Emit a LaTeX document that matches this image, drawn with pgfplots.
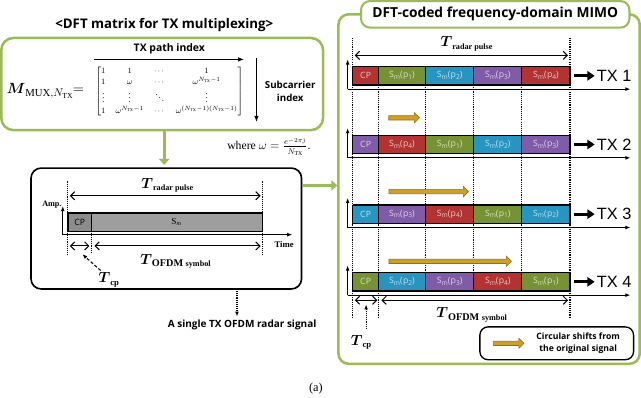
\documentclass[border=0pt]{standalone}
\usepackage{amsmath}
\usepackage{pgfplots}
\pgfplotsset{compat=1.18}
\usepackage{fontspec}
\setmainfont{Liberation Serif}
\setsansfont{Open Sans}
\newfontfamily\arialf{Liberation Sans}
\newfontfamily\segf[LetterSpace=4]{Open Sans}
\usetikzlibrary{arrows.meta,shapes.arrows}
\definecolor{gbox}{RGB}{155,187,89}
\definecolor{cred}{RGB}{178,52,50}
\definecolor{cgreen}{RGB}{118,146,52}
\definecolor{cblue}{RGB}{40,148,192}
\definecolor{cpurple}{RGB}{128,92,168}
\definecolor{gold}{RGB}{205,160,40}
\definecolor{golddark}{RGB}{150,112,20}
\newcommand\fs[1]{\fontsize{#1}{#1}\selectfont}
\newcommand\seg[6]{%
\addplot[fill=#5, draw=black, line width=1.1pt] coordinates {(#1,#3)(#2,#3)(#2,#4)(#1,#4)(#1,#3)};
\node[text=white!72!#5, font={\segf\fs{8.5}}, inner sep=0pt] at ({(#1+#2)/2},{(#3+#4)/2}) {#6};}
\newcommand\Sm[1]{S\raisebox{-1.5pt}{\fs{6.5}m}(p\raisebox{-1.5pt}{\fs{6.5}#1})}
\newcommand\goldarrow[3]{\node[single arrow, fill=gold, draw=golddark, line width=0.6pt, minimum height=#3pt, minimum width=10pt, single arrow head extend=2.5pt, inner sep=1.6pt] at (#1,#2) {};}
\newcommand\Tsym[2]{{\fs{15}$\boldsymbol{T}$}{\bfseries\raisebox{-2.5pt}{#1}}}
\begin{document}
\begin{tikzpicture}
\begin{axis}[scale only axis, width=641bp, height=398bp, xmin=0, xmax=641, ymin=0, ymax=398, y dir=reverse, axis lines=none, clip=false]
% ===== Left: DFT matrix =====
\node[font={\sffamily\bfseries\fs{13}}] at (172,27) {<DFT matrix for TX multiplexing>};
\draw[gbox, line width=2.5pt, rounded corners=12pt] (13,40) rectangle (327,130);
\node[font={\sffamily\bfseries\fs{10.2}}] at (177,51) {TX path index};
\draw[-{Latex[length=6pt]}, line width=1pt] (103,61) -- (250,61);
\draw[-{Latex[length=6pt]}, line width=1pt] (262,60) -- (262,122);
\node[font={\sffamily\bfseries\fontsize{9.5}{12.5}\selectfont}, align=center] at (295,92) {Subcarrier\\index};
\node[anchor=east, inner sep=0pt] at (94,92) {\fs{15}$\boldsymbol{M}_{\mathrm{MUX},N_{\mathrm{TX}}}\!\!=$};
\node[inner sep=0pt] at (177,92) {\fontsize{8.5}{9.5}\selectfont\setlength{\arraycolsep}{5pt}\renewcommand{\arraystretch}{1.12}$\begin{bmatrix} 1 & 1 & \cdots & 1\\ 1 & \omega & \cdots & \omega^{N_{\mathrm{TX}}-1}\\ \vdots & \vdots & \ddots & \vdots\\ 1 & \omega^{N_{\mathrm{TX}}-1} & \cdots & \omega^{(N_{\mathrm{TX}}-1)(N_{\mathrm{TX}}-1)}\end{bmatrix}$};
\node[anchor=west] at (230,146) {\fs{11.5}where $\omega=\frac{e^{-2\pi j}}{N_{\mathrm{TX}}}$.};
\draw[gbox, line width=3pt, -{Triangle[length=6pt,width=10pt]}] (172,131) -- (172,164);
% ===== Left: single OFDM signal =====
\draw[line width=1.6pt, rounded corners=10pt] (42,167) rectangle (306,285);
\draw[densely dotted, line width=1.1pt] (78,180) -- (78,252);
\draw[densely dotted, line width=1.1pt] (268,180) -- (268,252);
\draw[densely dotted, line width=1.1pt] (101,230) -- (101,250);
\node at (175,184) {\Tsym{\fs{8}radar pulse}{}};
\draw[{Straight Barb[length=4pt]}-{Straight Barb[length=4pt]}, line width=1pt] (80,194) -- (266,194);
\node[anchor=east, font={\fs{8}\bfseries}, inner sep=1pt] at (73,203) {Amp.};
\draw[-{Latex[length=5pt]}, line width=1pt] (73,232) -- (73,204);
\draw[-{Latex[length=5pt]}, line width=1pt] (73,232) -- (297,232);
\node[font={\fs{8.5}\bfseries}] at (289,242) {Time};
\addplot[fill=black!45, draw=black, line width=1.4pt] coordinates {(78,211)(101,211)(101,229)(78,229)(78,211)};
\addplot[fill=black!38, draw=black, line width=1.4pt] coordinates {(101,211)(268,211)(268,229)(101,229)(101,211)};
\node[font={\sffamily\fs{8.5}}] at (89.5,220) {CP};
\node[font={\fs{9}}] at (184,220) {S\textsubscript{\itshape m}};
\draw[{Straight Barb[length=4pt]}-{Straight Barb[length=4pt]}, line width=1pt] (80,243) -- (99,243);
\draw[{Straight Barb[length=4pt]}-{Straight Barb[length=4pt]}, line width=1pt] (104,243) -- (266,243);
\node at (183,258) {\Tsym{\fs{10}OFDM {\fs{8}symbol}}{}};
\node at (118,276) {\Tsym{\fs{8.5}cp}{}};
\draw[densely dashed, line width=1pt, -{Latex[length=5pt]}] (110,267) -- (92,251);
\draw[densely dotted, line width=1.1pt, -{Latex[length=5pt]}] (243,287) -- (243,312);
\node[anchor=east, font={\sffamily\bfseries\fs{9.8}}] at (324,320) {A single TX OFDM radar signal};
\draw[gbox, line width=3pt, -{Triangle[length=6pt,width=10pt]}] (307,184) -- (341,184);
% ===== Right: MIMO =====
\draw[gbox, line width=2.5pt, rounded corners=10pt] (342,17) rectangle (636,358);
\draw[gbox, line width=2pt, fill=white, rounded corners=9pt] (364,4) rectangle (626,30);
\node[font={\sffamily\bfseries\fs{13.5}}] at (495,17) {DFT-coded frequency-domain MIMO};
\node at (467,46) {\Tsym{\fs{8}radar pulse}{}};
\draw[{Straight Barb[length=4pt]}-{Straight Barb[length=4pt]}, line width=1pt] (358,57) -- (566,57);
\draw[densely dotted, line width=1.1pt] (356,40) -- (356,312);
\draw[densely dotted, line width=1.1pt] (568,40) -- (568,312);
\draw[densely dotted, line width=1.1pt] (381,86) -- (381,312);
\draw[densely dotted, line width=1.1pt] (427,86) -- (427,270);
\draw[densely dotted, line width=1.1pt] (474,86) -- (474,270);
\draw[densely dotted, line width=1.1pt] (521,86) -- (521,270);
% axes for each TX
\draw[-{Latex[length=5pt]}, line width=1pt] (351,90) -- (351,61);
\draw[-{Latex[length=5pt]}, line width=1pt] (351,90) -- (627,90);
\draw[-{Latex[length=5pt]}, line width=1pt] (351,157) -- (351,128);
\draw[-{Latex[length=5pt]}, line width=1pt] (351,157) -- (627,157);
\draw[-{Latex[length=5pt]}, line width=1pt] (351,225) -- (351,196);
\draw[-{Latex[length=5pt]}, line width=1pt] (351,225) -- (627,225);
\draw[-{Latex[length=5pt]}, line width=1pt] (351,291) -- (351,262);
\draw[-{Latex[length=5pt]}, line width=1pt] (351,291) -- (627,291);
% TX1
\seg{356}{381}{68}{86}{cred}{CP}
\seg{381}{427}{68}{86}{cgreen}{\Sm{1}}
\seg{427}{474}{68}{86}{cblue}{\Sm{2}}
\seg{474}{521}{68}{86}{cpurple}{\Sm{3}}
\seg{521}{568}{68}{86}{cred}{\Sm{4}}
% TX2
\seg{356}{381}{135}{153}{cpurple}{CP}
\seg{381}{427}{135}{153}{cred}{\Sm{4}}
\seg{427}{474}{135}{153}{cgreen}{\Sm{1}}
\seg{474}{521}{135}{153}{cblue}{\Sm{2}}
\seg{521}{568}{135}{153}{cpurple}{\Sm{3}}
% TX3
\seg{356}{381}{203}{221}{cblue}{CP}
\seg{381}{427}{203}{221}{cpurple}{\Sm{3}}
\seg{427}{474}{203}{221}{cred}{\Sm{4}}
\seg{474}{521}{203}{221}{cgreen}{\Sm{1}}
\seg{521}{568}{203}{221}{cblue}{\Sm{2}}
% TX4
\seg{356}{381}{269}{287}{cgreen}{CP}
\seg{381}{427}{269}{287}{cblue}{\Sm{2}}
\seg{427}{474}{269}{287}{cpurple}{\Sm{3}}
\seg{474}{521}{269}{287}{cred}{\Sm{4}}
\seg{521}{568}{269}{287}{cgreen}{\Sm{1}}
% TX labels
\draw[line width=2.8pt, -{Triangle[length=7pt,width=9pt]}] (572,77) -- (592,77);
\node[anchor=west, font={\arialf\fs{16}}, inner sep=1pt] at (593,77) {TX 1};
\draw[line width=2.8pt, -{Triangle[length=7pt,width=9pt]}] (572,144) -- (592,144);
\node[anchor=west, font={\arialf\fs{16}}, inner sep=1pt] at (593,144) {TX 2};
\draw[line width=2.8pt, -{Triangle[length=7pt,width=9pt]}] (572,212) -- (592,212);
\node[anchor=west, font={\arialf\fs{16}}, inner sep=1pt] at (593,212) {TX 3};
\draw[line width=2.8pt, -{Triangle[length=7pt,width=9pt]}] (572,278) -- (592,278);
\node[anchor=west, font={\arialf\fs{16}}, inner sep=1pt] at (593,278) {TX 4};
% shift arrows
\goldarrow{405}{118}{30}
\goldarrow{429}{190}{78}
\goldarrow{450}{258}{120}
% bottom annotations
\draw[{Straight Barb[length=4pt]}-{Straight Barb[length=4pt]}, line width=1pt] (358,296) -- (380,296);
\draw[{Straight Barb[length=4pt]}-{Straight Barb[length=4pt]}, line width=1pt] (384,296) -- (566,296);
\node at (472,310) {\Tsym{\fs{10}OFDM {\fs{8}symbol}}{}};
\node at (364,337) {\Tsym{\fs{8.5}cp}{}};
\draw[densely dotted, line width=1.1pt, -{Latex[length=5pt]}] (369,324) -- (369,300);
\draw[line width=1.3pt, rounded corners=8pt] (480,322) rectangle (630,354);
\goldarrow{507}{338}{30}
\node[font={\sffamily\bfseries\fontsize{8.5}{11.5}\selectfont}, align=center] at (576,338) {Circular shifts from\\the original signal};
\node at (320,382) {\fs{12}(a)};
\end{axis}
\end{tikzpicture}
\end{document}
